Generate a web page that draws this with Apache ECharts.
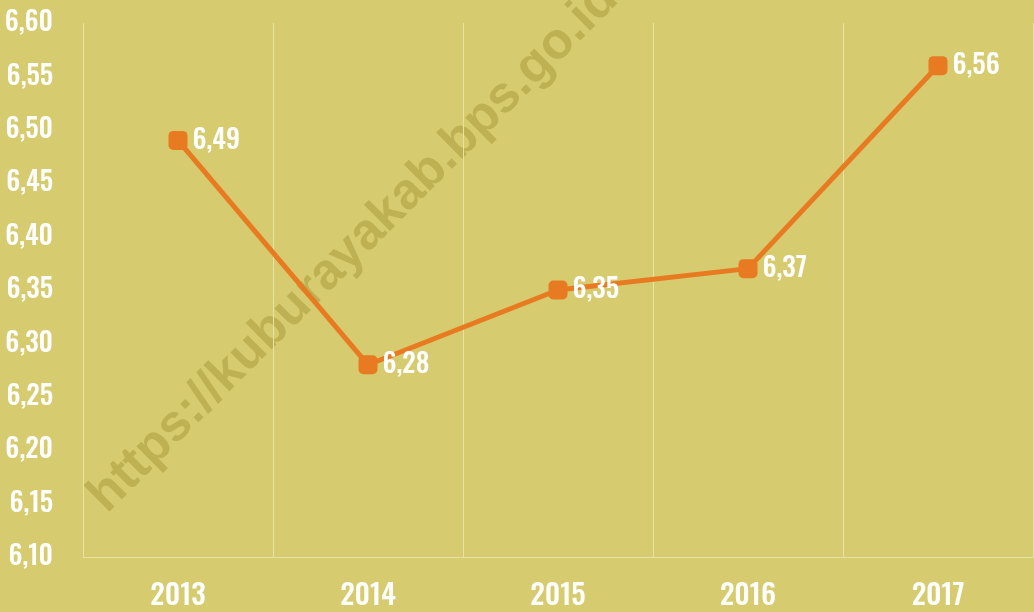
<!DOCTYPE html>
<html>
<head>
<meta charset="utf-8">
<script src="https://cdn.jsdelivr.net/npm/echarts@6/dist/echarts.min.js"></script>
<style>
html,body{margin:0;padding:0;background:#d6cb6e;}
#chart{width:1034px;height:612px;}
</style>
</head>
<body>
<div id="chart"></div>
<script>
var years = ['2013', '2014', '2015', '2016', '2017'];
var values = [6.49, 6.28, 6.35, 6.37, 6.56];
var yMin = 6.10, yMax = 6.60, yStep = 0.05;
var watermark = 'https://kuburayakab.bps.go.id';

function comma(v, d) { return Number(v).toFixed(d).replace('.', ','); }

var chart = echarts.init(document.getElementById('chart'));
var font = '"Oswald", "Roboto Condensed", sans-serif';
chart.setOption({
  backgroundColor: '#d6cb6e',
  animation: false,
  grid: { left: 83, right: 1, top: 23, bottom: 55, outerBoundsMode: 'none', containLabel: false },
  xAxis: {
    type: 'category',
    data: years,
    boundaryGap: true,
    axisLine: { show: true, lineStyle: { color: '#e8e2a6', width: 1 } },
    axisTick: { show: false },
    splitLine: { show: true, lineStyle: { color: '#e8e2a6', width: 1 } },
    axisLabel: { color: '#ffffff', fontFamily: font, fontWeight: 500, fontSize: 29, margin: 25 }
  },
  yAxis: {
    type: 'value',
    min: yMin, max: yMax, interval: yStep,
    axisLine: { show: false },
    axisTick: { show: false },
    splitLine: { show: false },
    axisLabel: { color: '#ffffff', fontFamily: font, fontWeight: 500, fontSize: 27, margin: 30,
      formatter: function (v) { return comma(v, 2); } }
  },
  graphic: [{
    type: 'text',
    z: 0,
    silent: true,
    x: 97, y: 504,
    rotation: Math.PI / 4,
    style: {
      text: watermark,
      fill: 'rgba(150,135,40,0.38)',
      font: 'bold 51px "Liberation Sans", Arial, sans-serif',
      align: 'left',
      verticalAlign: 'middle'
    }
  }],
  series: [{
    type: 'line',
    data: values,
    z: 5,
    symbol: 'roundRect',
    symbolSize: 19,
    itemStyle: { color: '#e87a22' },
    lineStyle: { color: '#e87a22', width: 5 },
    label: {
      show: true, position: 'right', distance: 5,
      color: '#ffffff', fontFamily: font, fontWeight: 500, fontSize: 27,
      formatter: function (p) { return comma(p.value, 2); }
    }
  }]
});
</script>
</body>
</html>
